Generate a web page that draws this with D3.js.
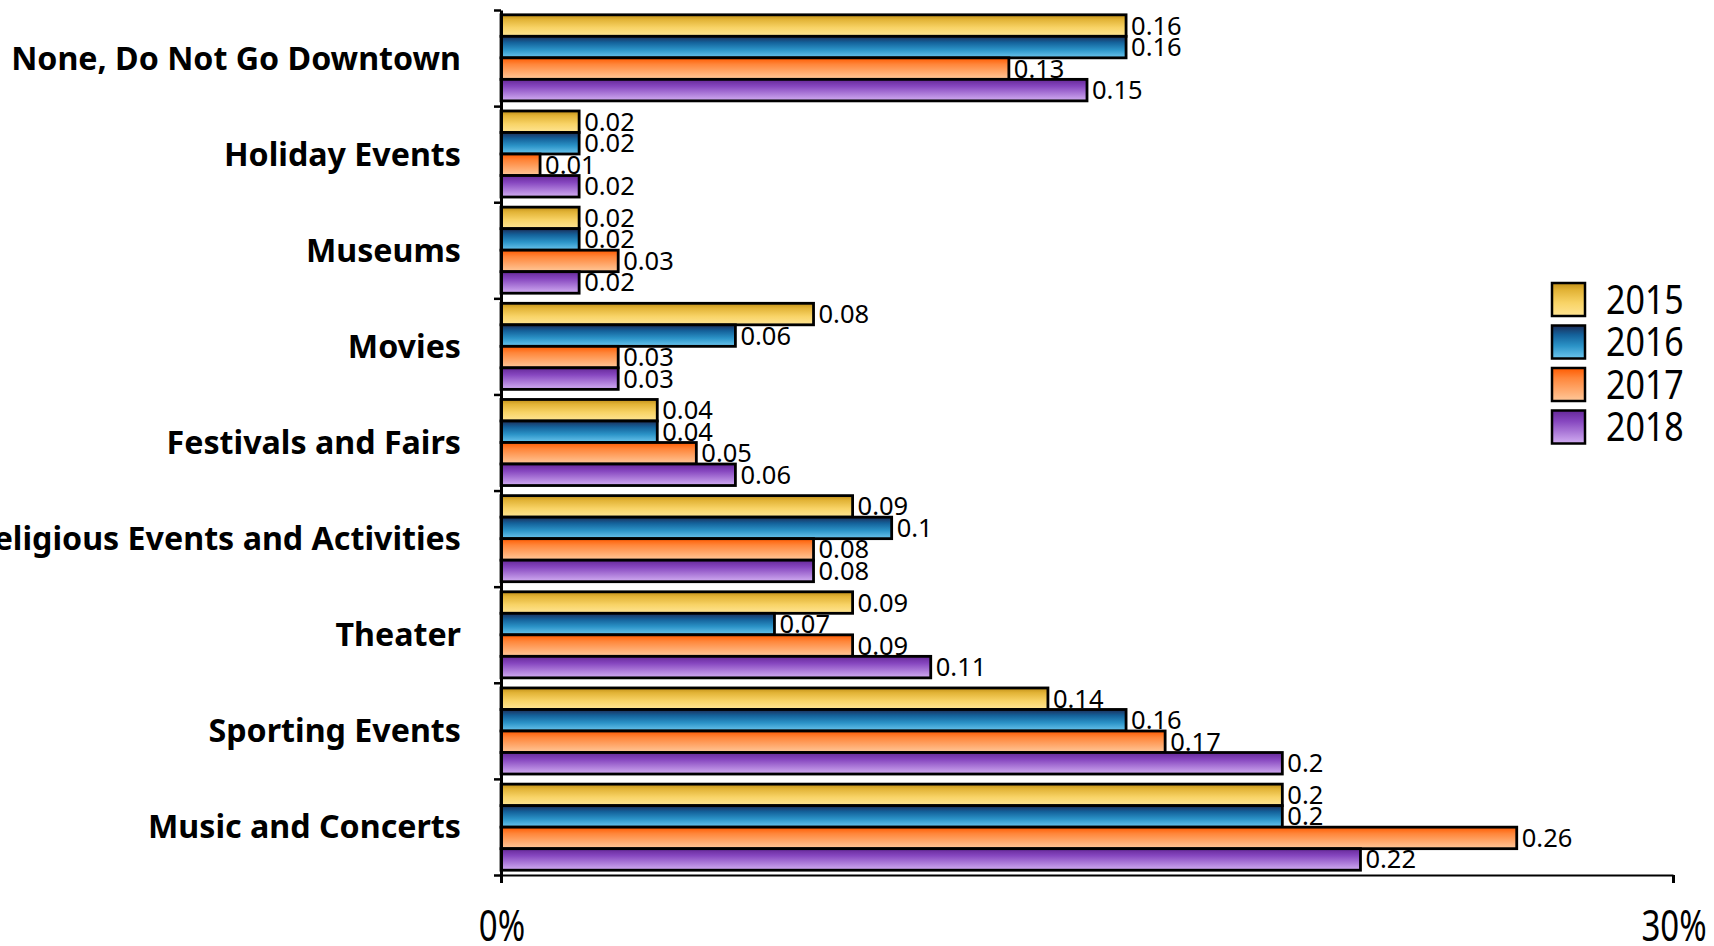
<!DOCTYPE html>
<html>
<head>
<meta charset="utf-8">
<script src="https://cdn.jsdelivr.net/npm/d3@7"></script>
<style>
  html, body { margin: 0; padding: 0; background: #fff; }
  svg { display: block; }
  text { font-family: "Noto Sans", "Open Sans", sans-serif; fill: #000; }
</style>
</head>
<body>
<svg id="chart" width="1714" height="946"></svg>
<script>
// Downtown activities by survey year (share of respondents)
const categories = [
  "None, Do Not Go Downtown",
  "Holiday Events",
  "Museums",
  "Movies",
  "Festivals and Fairs",
  "Religious Events and Activities",
  "Theater",
  "Sporting Events",
  "Music and Concerts"
];
const years = ["2015", "2016", "2017", "2018"];
const values2015 = [0.16, 0.02, 0.02, 0.08, 0.04, 0.09, 0.09, 0.14, 0.2];
const values2016 = [0.16, 0.02, 0.02, 0.06, 0.04, 0.1, 0.07, 0.16, 0.2];
const values2017 = [0.13, 0.01, 0.03, 0.03, 0.05, 0.08, 0.09, 0.17, 0.26];
const values2018 = [0.15, 0.02, 0.02, 0.03, 0.06, 0.08, 0.11, 0.2, 0.22];
const xTickValues = [0, 0.3];
const xTickLabels = ["0%", "30%"];

const seriesValues = [values2015, values2016, values2017, values2018];

// vertical gradients per year: dark top edge fading to a light bottom
const gradientStops = {
  "2015": [[0, "#c08f18"], [0.22, "#e2b336"], [0.6, "#f8d366"], [1, "#ffe594"]],
  "2016": [[0, "#1c2d58"], [0.28, "#14619a"], [0.62, "#2b93c7"], [1, "#6cc6ee"]],
  "2017": [[0, "#ff5a00"], [0.3, "#ff863a"], [1, "#ffc89a"]],
  "2018": [[0, "#652898"], [0.32, "#8646bf"], [1, "#d2aef2"]]
};

const svg = d3.select("#chart");
const defs = svg.append("defs");
years.forEach(yr => {
  const g = defs.append("linearGradient")
    .attr("id", "grad" + yr)
    .attr("x1", 0).attr("y1", 0).attr("x2", 0).attr("y2", 1);
  gradientStops[yr].forEach(([o, c]) => {
    g.append("stop").attr("offset", o).attr("stop-color", c);
  });
});

const plotTop = 10, plotBottom = 875, plotLeft = 501, plotRight = 1673;

const x = d3.scaleLinear().domain([0, 0.3]).range([plotLeft, plotRight]);
const y = d3.scaleBand().domain(categories).range([plotTop, plotBottom])
  .paddingInner(0.105).paddingOuter(0.05);
const yInner = d3.scaleBand().domain(years).range([0, y.bandwidth()]).padding(0);
// band edges for the category tick marks
const yEdge = d3.scaleLinear().domain([0, categories.length]).range([plotTop, plotBottom]);

// bars
const groups = svg.append("g").selectAll("g")
  .data(categories)
  .join("g")
  .attr("transform", d => `translate(0,${y(d)})`);

groups.each(function (cat, ci) {
  const g = d3.select(this);
  const rows = years.map((yr, si) => ({ yr, v: seriesValues[si][ci] }));
  g.selectAll("rect")
    .data(rows)
    .join("rect")
    .attr("x", x(0))
    .attr("y", d => yInner(d.yr))
    .attr("width", d => x(d.v) - x(0))
    .attr("height", yInner.bandwidth())
    .attr("fill", d => `url(#grad${d.yr})`)
    .attr("stroke", "#000")
    .attr("stroke-width", 2.8);
  g.selectAll("text")
    .data(rows)
    .join("text")
    .attr("x", d => x(d.v) + 5)
    .attr("y", d => yInner(d.yr) + yInner.bandwidth() / 2 + 9)
    .attr("font-size", 25.5)
    .text(d => String(d.v));
});

// category axis
const yAxis = d3.axisLeft(yEdge)
  .tickValues(d3.range(0, categories.length + 1))
  .tickFormat("")
  .tickSizeInner(7)
  .tickSizeOuter(0);
const yAxisG = svg.append("g").attr("transform", `translate(${plotLeft},0)`).call(yAxis);
yAxisG.select(".domain").attr("stroke", "#000").attr("stroke-width", 3);
yAxisG.selectAll(".tick line").attr("stroke", "#000").attr("stroke-width", 2.5);

// value axis
const xAxis = d3.axisBottom(x)
  .tickValues(xTickValues)
  .tickFormat("")
  .tickSizeInner(8)
  .tickSizeOuter(0);
const xAxisG = svg.append("g").attr("transform", `translate(0,${plotBottom})`).call(xAxis);
xAxisG.select(".domain").attr("stroke", "#000").attr("stroke-width", 2);
xAxisG.selectAll(".tick line").attr("stroke", "#000").attr("stroke-width", 3);

svg.append("g").selectAll("text")
  .data(xTickValues)
  .join("text")
  .attr("text-anchor", "middle")
  .attr("font-size", 33)
  .attr("transform", d => `translate(${x(d) + 1},941) scale(1,1.3)`)
  .text((d, i) => xTickLabels[i]);

// category labels
svg.append("g").selectAll("text")
  .data(categories)
  .join("text")
  .attr("x", 461)
  .attr("y", (d, i) => yEdge(i + 0.5) + 11.5)
  .attr("text-anchor", "end")
  .attr("font-size", 32.2)
  .attr("font-weight", "bold")
  .text(d => d);

// legend
const legend = svg.append("g").attr("transform", "translate(1552,283)");
const items = legend.selectAll("g")
  .data(years)
  .join("g")
  .attr("transform", (d, i) => `translate(0,${i * 42.5})`);
items.append("rect")
  .attr("width", 33).attr("height", 33)
  .attr("fill", d => `url(#grad${d})`)
  .attr("stroke", "#000").attr("stroke-width", 2.5);
items.append("text")
  .attr("font-size", 34)
  .attr("transform", `translate(54,${16.5 + 14}) scale(1,1.17)`)
  .text(d => d);
</script>
</body>
</html>
